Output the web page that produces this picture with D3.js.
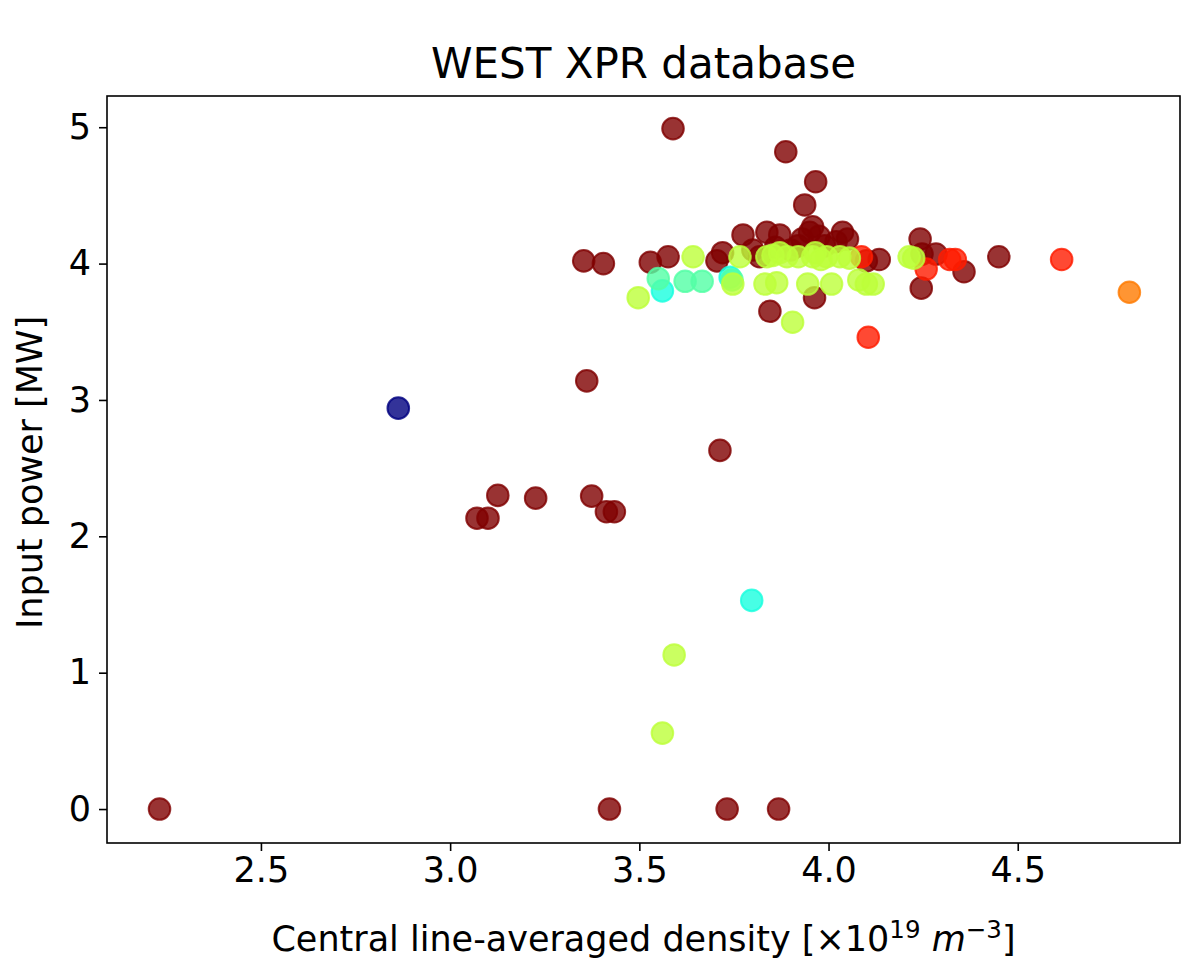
<!DOCTYPE html>
<html><head><meta charset="utf-8">
<script src="https://cdn.jsdelivr.net/npm/d3@7"></script>
<style>body{margin:0;background:#fff}svg{display:block;font-family:"DejaVu Sans",sans-serif}</style>
</head><body>
<svg id="c" width="1182" height="964"></svg>
<script>
// density [1e19 m^-3]
const xs = [2.232,3.421,3.732,3.868,3.071,3.100,3.126,3.226,3.374,3.413,3.434,3.361,3.713,3.589,3.887,3.966,3.937,
 3.353,3.405,3.529,3.576,3.705,3.720,3.774,3.837,3.871,3.818,3.845,3.963,3.950,3.930,3.975,3.958,4.037,4.020,4.100,4.134,4.242,4.247,4.284,4.358,4.450,4.245,3.900,3.920,3.990,4.050,3.800,3.860,
 4.105,4.616,4.087,4.258,4.320,4.335,
 4.795,
 2.863,
 3.797,3.561,3.740,
 3.550,3.621,3.666,3.745,
 3.592,3.561,3.497,3.642,3.747,3.766,3.837,3.853,3.871,3.890,3.832,3.863,3.905,3.945,3.920,3.958,3.995,4.030,4.055,4.008,4.080,4.100,4.118,4.213,4.225,3.965,3.980];
// input power [MW]
const ys = [0,0,0,0,2.133,2.133,2.30,2.28,2.295,2.18,2.18,3.14,2.63,4.99,4.82,4.60,4.43,
 4.02,4.00,4.01,4.05,4.02,4.08,4.21,4.23,4.21,4.05,3.65,3.75,4.23,4.18,4.20,4.27,4.23,4.16,4.02,4.03,4.18,4.07,4.07,3.94,4.05,3.82,4.10,4.13,4.13,4.18,4.10,4.12,
 3.46,4.03,4.05,3.96,4.03,4.03,
 3.79,
 2.94,
 1.53,3.80,3.90,
 3.89,3.87,3.87,3.88,
 1.13,0.557,3.75,4.05,3.85,4.05,4.05,4.06,4.08,4.05,3.85,3.86,3.57,3.85,4.05,4.05,4.05,4.05,4.04,3.85,3.88,3.85,3.85,4.05,4.04,4.08,4.03];
// colour value (jet)
const cs = [1,1,1,1,1,1,1,1,1,1,1,1,1,1,1,1,1,
 1,1,1,1,1,1,1,1,1,1,1,1,1,1,1,1,1,1,1,1,1,1,1,1,1,1,1,1,1,1,1,1,
 0.88,0.88,0.88,0.88,0.88,0.88,
 0.78,
 0.0,
 0.38,0.38,0.38,
 0.45,0.45,0.45,0.45,
 0.58,0.58,0.58,0.58,0.58,0.58,0.58,0.58,0.58,0.58,0.58,0.58,0.58,0.58,0.58,0.58,0.58,0.58,0.58,0.58,0.58,0.58,0.58,0.58,0.58,0.58,0.58];
const xTicks = [2.5,3.0,3.5,4.0,4.5];
const yTicks = [0,1,2,3,4,5];

const svg = d3.select("#c");
const L=107,R=1180,T=96,B=843;
const x = d3.scaleLinear().domain([2.0932,4.9288]).range([L,R]);
const y = d3.scaleLinear().domain([-0.249,5.229]).range([B,T]);

// jet colormap
const jr = d3.scaleLinear().domain([0,0.35,0.66,0.89,1]).range([0,0,1,1,0.5]).clamp(true);
const jg = d3.scaleLinear().domain([0,0.125,0.375,0.64,0.91,1]).range([0,0,1,1,0,0]).clamp(true);
const jb = d3.scaleLinear().domain([0,0.11,0.34,0.65,1]).range([0.5,1,1,0,0]).clamp(true);
const jet = v => d3.rgb(jr(v)*255,jg(v)*255,jb(v)*255).formatHex();

const data = xs.map((d,i)=>({x:d,y:ys[i],c:cs[i]}));
svg.append("g").selectAll("circle").data(data).join("circle")
  .attr("cx",d=>x(d.x)).attr("cy",d=>y(d.y)).attr("r",10.8)
  .attr("fill",d=>jet(d.c)).attr("fill-opacity",0.8)
  .attr("stroke",d=>jet(d.c)).attr("stroke-opacity",0.8).attr("stroke-width",2);

const xa = svg.append("g").attr("transform",`translate(0,${B})`)
  .call(d3.axisBottom(x).tickValues(xTicks).tickFormat(d3.format(".1f")).tickSize(8).tickPadding(6));
const ya = svg.append("g").attr("transform",`translate(${L},0)`)
  .call(d3.axisLeft(y).tickValues(yTicks).tickFormat(d3.format("d")).tickSize(8).tickPadding(8));
[xa,ya].forEach(a=>{a.select(".domain").remove();
  a.selectAll("text").attr("font-size",35).attr("fill","#000").attr("font-family","DejaVu Sans");
  a.selectAll("line").attr("stroke","#000").attr("stroke-width",1.6);});

svg.append("rect").attr("x",L).attr("y",T).attr("width",R-L).attr("height",B-T)
  .attr("fill","none").attr("stroke","#000").attr("stroke-width",1.6);

svg.append("text").attr("x",(L+R)/2).attr("y",78).attr("text-anchor","middle")
  .attr("font-size",42).text("WEST XPR database");
svg.append("text").attr("transform",`translate(42,${(T+B)/2+3}) rotate(-90)`).attr("text-anchor","middle")
  .attr("font-size",35).text("Input power [MW]");
const xl = svg.append("text").attr("x",(L+R)/2).attr("y",951).attr("text-anchor","middle").attr("font-size",35);
xl.append("tspan").text("Central line-averaged density [×10");
xl.append("tspan").attr("font-size",24.5).attr("dy",-13).text("19");
xl.append("tspan").attr("dy",13).text(" ");
xl.append("tspan").attr("font-style","italic").text("m");
xl.append("tspan").attr("font-size",24.5).attr("dy",-13).text("−3");
xl.append("tspan").attr("dy",13).text("]");
</script>
</body></html>
